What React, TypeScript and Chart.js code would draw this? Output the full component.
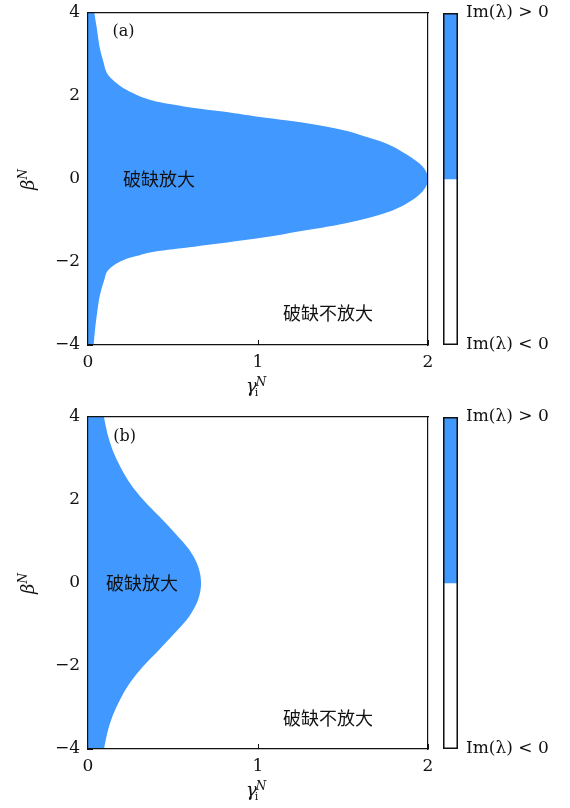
import React, { useEffect, useRef } from 'react';
import { Chart, registerables } from 'chart.js';

Chart.register(...registerables);

const SERIF = "'DejaVu Serif', serif";
Chart.defaults.font.family = SERIF;

const BLUE = '#4199FF';
const INK = '#111111';

// Panel (a): boundary of the amplifying region, β^N from top to bottom and γ_i^N on the edge
const BETA_A = [
  4.0, 3.6, 3.2, 2.8, 2.55, 2.39, 2.23, 2.07, 1.95, 1.87, 1.79, 1.71, 1.63, 1.55, 1.47, 1.39, 1.27, 1.15, 1.03, 0.91, 0.79, 0.6, 0.3,
  0.0,
  -0.3, -0.6, -0.83, -1.07, -1.23, -1.43, -1.63, -1.75, -1.85, -1.95, -2.19, -2.43, -2.8, -3.24, -3.6, -4.0,
];
const GAMMA_A = [
  0.037, 0.053, 0.067, 0.092, 0.112, 0.145, 0.194, 0.263, 0.331, 0.40, 0.508, 0.625, 0.78, 0.92, 1.057, 1.21, 1.39, 1.53, 1.625, 1.72, 1.79, 1.87, 1.968,
  2.0,
  1.968, 1.87, 1.74, 1.51, 1.29, 1.0, 0.625, 0.39, 0.29, 0.21, 0.12, 0.096, 0.07, 0.053, 0.042, 0.033,
];

// Panel (b): same boundary for the second case
const BETA_B = [
  4.0, 3.6, 3.2, 2.8, 2.4, 2.0, 1.6, 1.2, 0.8, 0.4,
  0.0,
  -0.4, -0.8, -1.2, -1.6, -2.0, -2.4, -2.8, -3.2, -3.6, -4.0,
];
const GAMMA_B = [
  0.094, 0.114, 0.145, 0.19, 0.248, 0.326, 0.42, 0.512, 0.596, 0.648,
  0.665,
  0.648, 0.596, 0.512, 0.42, 0.326, 0.248, 0.19, 0.145, 0.114, 0.094,
];

const X_TICKS = [0, 1, 2];
const Y_TICKS = [-4, -2, 0, 2, 4];
const REGION_GAIN = '破缺放大';
const REGION_NO_GAIN = '破缺不放大';
const BAR_TOP = 'Im(λ) > 0';
const BAR_BOTTOM = 'Im(λ) < 0';

const TICK_FONT = { family: SERIF, size: 17 };
const CJK_FONT = "18px 'Noto Sans CJK SC', sans-serif";

type PanelText = {
  tag: string;
  tagAt: [number, number];
  gainAt: [number, number];
  noGainAt: [number, number];
};

const fmtTick = (v: number) => (v < 0 ? '\u2212' + Math.abs(v) : String(v));

// Box sizes are fixed by hand, so the automatic label padding is switched off
const fixSize = (w: number | null, h: number | null) => (s: any) => {
  if (w !== null) s.width = w;
  if (h !== null) s.height = h;
  s.paddingTop = 0;
  s.paddingBottom = 0;
  s.paddingLeft = 0;
  s.paddingRight = 0;
};

// Draws the panel tag, region names and the axis titles
const panelTextPlugin = {
  id: 'panelText',
  afterDraw(chart: any, _args: any, opts: PanelText) {
    const { ctx, chartArea } = chart;
    const x = chart.scales.x;
    const y = chart.scales.y;
    ctx.save();
    ctx.fillStyle = INK;

    ctx.font = `16px ${SERIF}`;
    ctx.textAlign = 'center';
    ctx.textBaseline = 'middle';
    ctx.fillText(opts.tag, x.getPixelForValue(opts.tagAt[0]), y.getPixelForValue(opts.tagAt[1]));

    ctx.font = CJK_FONT;
    ctx.textAlign = 'left';
    ctx.fillText(REGION_GAIN, x.getPixelForValue(opts.gainAt[0]), y.getPixelForValue(opts.gainAt[1]));
    ctx.fillText(REGION_NO_GAIN, x.getPixelForValue(opts.noGainAt[0]), y.getPixelForValue(opts.noGainAt[1]));

    // x title: γ_i^N
    ctx.textBaseline = 'alphabetic';
    const cx = (chartArea.left + chartArea.right) / 2;
    const by = chartArea.bottom + 47;
    ctx.font = `italic 18px ${SERIF}`;
    const gx = cx - 12;
    ctx.fillText('γ', gx, by);
    const gw = ctx.measureText('γ').width;
    ctx.font = `italic 12px ${SERIF}`;
    ctx.fillText('N', gx + gw - 1, by - 6);
    ctx.font = `11px ${SERIF}`;
    ctx.fillText('i', gx + gw - 2, by + 4);

    // y title: β^N, rotated
    ctx.translate(chartArea.left - 54, (chartArea.top + chartArea.bottom) / 2 + 11);
    ctx.rotate(-Math.PI / 2);
    ctx.font = `italic 18px ${SERIF}`;
    ctx.fillText('β', 0, 0);
    const bw = ctx.measureText('β').width;
    ctx.font = `italic 12px ${SERIF}`;
    ctx.fillText('N', bw, -7);
    ctx.restore();
  },
};

function Panel({ beta, gamma, text, top }: { beta: number[]; gamma: number[]; text: PanelText; top: number }) {
  const mainRef = useRef<HTMLCanvasElement>(null);
  const barRef = useRef<HTMLCanvasElement>(null);

  useEffect(() => {
    const points = beta.map((b, i) => ({ x: gamma[i], y: b }));
    const frame = { display: true, color: INK, width: 1.2, z: 1 };
    const main = new Chart(mainRef.current!, {
      type: 'line',
      data: {
        datasets: [
          {
            data: points,
            fill: 'origin',
            backgroundColor: BLUE,
            borderColor: BLUE,
            borderWidth: 0,
            pointRadius: 0,
            cubicInterpolationMode: 'monotone',
          },
        ],
      },
      options: {
        indexAxis: 'y',
        animation: false,
        responsive: false,
        events: [],
        layout: { padding: 0, autoPadding: false },
        plugins: { legend: { display: false }, tooltip: { enabled: false }, panelText: text } as any,
        scales: {
          x: {
            type: 'linear',
            position: 'bottom',
            min: 0,
            max: 2,
            z: 1,
            afterBuildTicks: (s: any) => {
              s.ticks = X_TICKS.map((value) => ({ value }));
            },
            ticks: { font: TICK_FONT, color: INK, padding: 12, maxRotation: 0, callback: (v: any) => fmtTick(Number(v)) },
            grid: { drawOnChartArea: false, drawTicks: true, tickLength: -5, color: INK, lineWidth: 1 },
            border: frame,
            afterFit: fixSize(null, 59),
          },
          xTop: {
            type: 'linear',
            position: 'top',
            min: 0,
            max: 2,
            z: 1,
            ticks: { display: false },
            grid: { display: false },
            border: frame,
            afterFit: fixSize(null, 13),
          },
          y: {
            type: 'linear',
            position: 'left',
            min: -4,
            max: 4,
            z: 1,
            afterBuildTicks: (s: any) => {
              s.ticks = Y_TICKS.map((value) => ({ value }));
            },
            ticks: { font: TICK_FONT, color: INK, padding: 13, callback: (v: any) => fmtTick(Number(v)) },
            grid: { drawOnChartArea: false, drawTicks: true, tickLength: -5, color: INK, lineWidth: 1 },
            border: frame,
            afterFit: fixSize(88, null),
          },
          yRight: {
            type: 'linear',
            position: 'right',
            min: -4,
            max: 4,
            z: 1,
            ticks: { display: false },
            grid: { display: false },
            border: frame,
            afterFit: fixSize(12, null),
          },
        },
      } as any,
      plugins: [panelTextPlugin],
    });

    const bar = new Chart(barRef.current!, {
      type: 'bar',
      data: {
        labels: [''],
        datasets: [
          {
            data: [[-1, 1]] as any,
            backgroundColor: 'rgba(0,0,0,0)',
            borderColor: INK,
            borderWidth: 1.2,
            borderSkipped: false,
            grouped: false,
            barPercentage: 1,
            categoryPercentage: 1,
          },
          {
            data: [[0, 1]] as any,
            backgroundColor: BLUE,
            borderWidth: 0,
            grouped: false,
            barPercentage: 1,
            categoryPercentage: 1,
          },
        ],
      },
      options: {
        animation: false,
        responsive: false,
        events: [],
        layout: { padding: { left: 3, top: 13, bottom: 59, right: 0 }, autoPadding: false },
        plugins: { legend: { display: false }, tooltip: { enabled: false } },
        scales: {
          x: { display: false },
          y: {
            type: 'linear',
            position: 'right',
            min: -1,
            max: 1,
            afterBuildTicks: (s: any) => {
              s.ticks = [{ value: -1 }, { value: 1 }];
            },
            ticks: {
              font: TICK_FONT,
              color: INK,
              padding: 8,
              callback: (v: any) => (Number(v) > 0 ? BAR_TOP : BAR_BOTTOM),
            },
            grid: { display: false, drawTicks: false },
            border: { display: false },
            afterFit: fixSize(112, null),
          },
        },
      } as any,
    });

    return () => {
      main.destroy();
      bar.destroy();
    };
  }, [beta, gamma, text]);

  return (
    <>
      <canvas ref={mainRef} width={440} height={404} style={{ position: 'absolute', left: 0, top, display: 'block' }} />
      <canvas ref={barRef} width={130} height={404} style={{ position: 'absolute', left: 440, top, display: 'block' }} />
    </>
  );
}

const TEXT_A: PanelText = { tag: '(a)', tagAt: [0.209, 3.54], gainAt: [0.206, 0], noGainAt: [1.147, -3.23] };
const TEXT_B: PanelText = { tag: '(b)', tagAt: [0.216, 3.52], gainAt: [0.106, 0], noGainAt: [1.147, -3.25] };

export default function App() {
  return (
    <div style={{ position: 'absolute', left: 0, top: 0, width: 570, height: 808, background: '#ffffff', overflow: 'hidden' }}>
      <Panel beta={BETA_A} gamma={GAMMA_A} text={TEXT_A} top={0} />
      <Panel beta={BETA_B} gamma={GAMMA_B} text={TEXT_B} top={404} />
    </div>
  );
}
